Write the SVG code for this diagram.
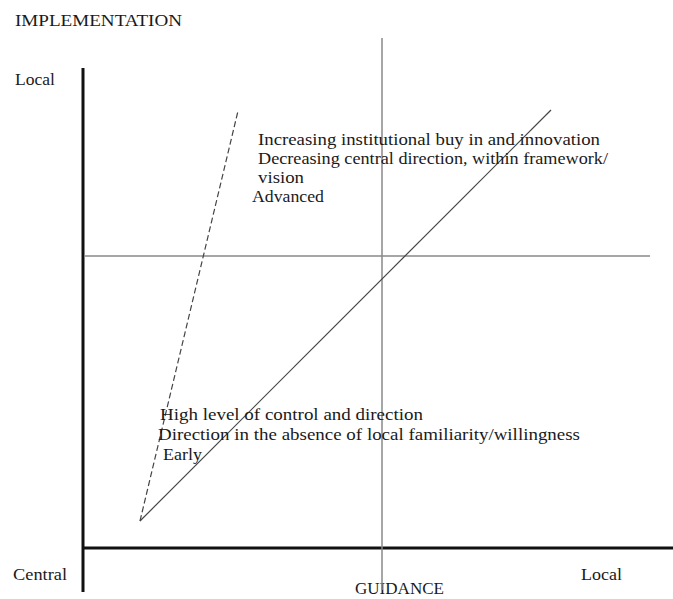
<svg xmlns="http://www.w3.org/2000/svg" width="673" height="599" viewBox="0 0 673 599">
<style>
text{font-family:"Liberation Serif","Times New Roman",serif;fill:#1a1a1a;font-size:17px}
.axis{stroke:#111;stroke-width:3;fill:none}
.grid{stroke:#888;stroke-width:1.5;fill:none}
.diag{stroke:#444;stroke-width:1.2;fill:none}
.dash{stroke:#444;stroke-width:1.2;fill:none;stroke-dasharray:6 3}
</style>
<rect width="673" height="599" fill="#fff"/>
<g id="labels">
<text x="15" y="26" font-size="16" textLength="167" lengthAdjust="spacingAndGlyphs">IMPLEMENTATION</text>
<text x="15" y="85" textLength="40" lengthAdjust="spacingAndGlyphs">Local</text>
<text x="13" y="580" textLength="54" lengthAdjust="spacingAndGlyphs">Central</text>
<text x="581" y="580" textLength="41" lengthAdjust="spacingAndGlyphs">Local</text>
<text x="355" y="594" font-size="14" textLength="89" lengthAdjust="spacingAndGlyphs">GUIDANCE</text>
</g>
<g id="axes">
<line class="axis" x1="83" y1="68" x2="83" y2="592"/>
<line class="axis" x1="82" y1="548" x2="673" y2="548"/>
<line class="grid" x1="382" y1="38" x2="382" y2="590"/>
<line class="grid" x1="84" y1="256" x2="650" y2="256"/>
</g>
<g id="connectors">
<line class="dash" x1="140" y1="521" x2="238" y2="111"/>
<line class="diag" x1="140" y1="521" x2="551" y2="110"/>
</g>
<g id="advanced">
<text x="258" y="145" textLength="342" lengthAdjust="spacingAndGlyphs">Increasing institutional buy in and innovation</text>
<text x="258" y="164" textLength="350" lengthAdjust="spacingAndGlyphs">Decreasing central direction, within framework/</text>
<text x="258" y="183" textLength="46" lengthAdjust="spacingAndGlyphs">vision</text>
<text x="252" y="202" textLength="72" lengthAdjust="spacingAndGlyphs">Advanced</text>
</g>
<g id="early">
<text x="160" y="420" textLength="263" lengthAdjust="spacingAndGlyphs">High level of control and direction</text>
<text x="158" y="440" textLength="422" lengthAdjust="spacingAndGlyphs">Direction in the absence of local familiarity/willingness</text>
<text x="163" y="460" textLength="39" lengthAdjust="spacingAndGlyphs">Early</text>
</g>
</svg>
